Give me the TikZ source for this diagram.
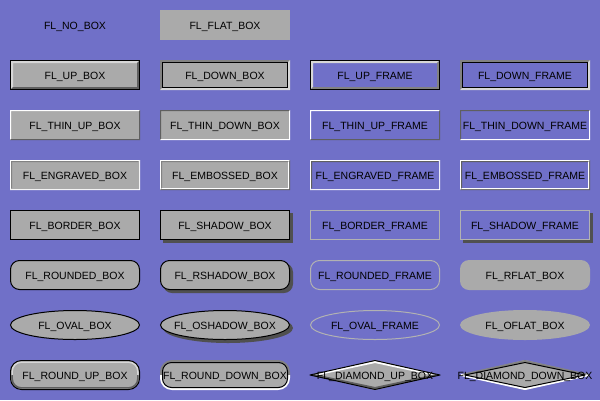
\documentclass[tikz,border=0pt]{standalone}
\usepackage{fontspec}
\setmainfont{Liberation Sans}
\definecolor{bg}{RGB}{112,112,200}
\definecolor{boxg}{RGB}{170,170,170}
\definecolor{lite}{RGB}{215,215,215}
\definecolor{dark}{RGB}{95,95,95}
\definecolor{mid}{RGB}{130,130,130}
\definecolor{shad}{RGB}{80,80,80}
\definecolor{fgray}{RGB}{178,178,178}
\tikzset{
  lbl/.style={font=\fontsize{10.5}{12}\selectfont, anchor=base, inner sep=0pt, text=black},
  blk/.style={draw=black, line width=1pt},
}
% bevel band: #1 inset, #2 width, #3 top-left colour, #4 bottom-right colour
\newcommand{\rbevel}[4]{%
  \fill[#3] (#1,#1) -- (130-#1,#1) -- (130-#1-#2,#1+#2) -- (#1+#2,#1+#2) -- (#1+#2,30-#1-#2) -- (#1,30-#1) -- cycle;
  \fill[#4] (130-#1,30-#1) -- (#1,30-#1) -- (#1+#2,30-#1-#2) -- (130-#1-#2,30-#1-#2) -- (130-#1-#2,#1+#2) -- (130-#1,#1) -- cycle;}
\begin{document}
\begin{tikzpicture}[x=1pt,y=-1pt]
\useasboundingbox (0,0) rectangle (600,400);
\fill[bg] (0,0) rectangle (600,400);

% ---------- row 0
\begin{scope}[shift={(10,10)}]
  \node[lbl] (nobox) at (65,19) {FL\_NO\_BOX};
\end{scope}
\begin{scope}[shift={(160,10)}]
  \fill[boxg] (0,0) rectangle (130,30);
  \node[lbl] (flatbox) at (65,19) {FL\_FLAT\_BOX};
\end{scope}

% ---------- row 1
\begin{scope}[shift={(10,60)}]
  \fill[boxg] (0,0) rectangle (130,30);
  \rbevel{1}{2}{lite}{dark}
  \draw[blk] (0.5,0.5) rectangle (129.5,29.5);
  \node[lbl] (upbox) at (65,19) {FL\_UP\_BOX};
\end{scope}
\begin{scope}[shift={(160,60)}]
  \fill[boxg] (0,0) rectangle (130,30);
  \rbevel{0}{2}{mid}{lite}
  \draw[blk] (2.5,2.5) rectangle (127.5,27.5);
  \node[lbl] (downbox) at (65,19) {FL\_DOWN\_BOX};
\end{scope}
\begin{scope}[shift={(310,60)}]
  \rbevel{1}{2}{lite}{mid}
  \draw[blk] (0.5,0.5) rectangle (129.5,29.5);
  \node[lbl] (upframe) at (65,19) {FL\_UP\_FRAME};
\end{scope}
\begin{scope}[shift={(460,60)}]
  \rbevel{0}{2}{mid}{lite}
  \draw[blk] (2.5,2.5) rectangle (127.5,27.5);
  \node[lbl] (downframe) at (65,19) {FL\_DOWN\_FRAME};
\end{scope}

% ---------- row 2
\begin{scope}[shift={(10,110)}]
  \fill[boxg] (0,0) rectangle (130,30);
  \rbevel{0}{1}{white}{dark}
  \node[lbl] (thinupbox) at (65,19) {FL\_THIN\_UP\_BOX};
\end{scope}
\begin{scope}[shift={(160,110)}]
  \fill[boxg] (0,0) rectangle (130,30);
  \rbevel{0}{1}{dark}{white}
  \node[lbl] (thindownbox) at (65,19) {FL\_THIN\_DOWN\_BOX};
\end{scope}
\begin{scope}[shift={(310,110)}]
  \rbevel{0}{1}{white}{dark}
  \node[lbl] (thinupframe) at (65,19) {FL\_THIN\_UP\_FRAME};
\end{scope}
\begin{scope}[shift={(460,110)}]
  \rbevel{0}{1}{dark}{white}
  \node[lbl] (thindownframe) at (65,19) {FL\_THIN\_DOWN\_FRAME};
\end{scope}

% ---------- row 3
\begin{scope}[shift={(10,160)}]
  \fill[boxg] (0,0) rectangle (130,30);
  \rbevel{0}{1}{white}{white}
  \rbevel{1}{1}{mid}{boxg}
  \node[lbl] (engravedbox) at (65,19) {FL\_ENGRAVED\_BOX};
\end{scope}
\begin{scope}[shift={(160,160)}]
  \fill[boxg] (0,0) rectangle (130,30);
  \rbevel{0}{1}{white}{dark}
  \rbevel{1}{1}{mid}{white}
  \node[lbl] (embossedbox) at (65,19) {FL\_EMBOSSED\_BOX};
\end{scope}
\begin{scope}[shift={(310,160)}]
  \rbevel{0}{1}{white}{white}
  \rbevel{1}{1}{dark}{bg}
  \node[lbl] (engravedframe) at (65,19) {FL\_ENGRAVED\_FRAME};
\end{scope}
\begin{scope}[shift={(460,160)}]
  \rbevel{0}{1}{white}{dark}
  \rbevel{1}{1}{dark}{white}
  \node[lbl] (embossedframe) at (65,19) {FL\_EMBOSSED\_FRAME};
\end{scope}

% ---------- row 4
\begin{scope}[shift={(10,210)}]
  \draw[blk, fill=boxg] (0.5,0.5) rectangle (129.5,29.5);
  \node[lbl] (borderbox) at (65,19) {FL\_BORDER\_BOX};
\end{scope}
\begin{scope}[shift={(160,210)}]
  \fill[shad] (3,3) rectangle (133,33);
  \draw[blk, fill=boxg] (0.5,0.5) rectangle (129.5,29.5);
  \node[lbl] (shadowbox) at (65,19) {FL\_SHADOW\_BOX};
\end{scope}
\begin{scope}[shift={(310,210)}]
  \draw[fgray, line width=1pt] (0.5,0.5) rectangle (129.5,29.5);
  \node[lbl] (borderframe) at (65,19) {FL\_BORDER\_FRAME};
\end{scope}
\begin{scope}[shift={(460,210)}]
  \fill[shad] (3,3) rectangle (133,33);
  \draw[fgray, line width=1pt, fill=bg] (0.5,0.5) rectangle (129.5,29.5);
  \node[lbl] (shadowframe) at (65,19) {FL\_SHADOW\_FRAME};
\end{scope}

% ---------- row 5
\begin{scope}[shift={(10,260)}]
  \draw[blk, fill=boxg, rounded corners=9pt] (0.5,0.5) rectangle (129.5,29.5);
  \node[lbl] (roundedbox) at (65,19) {FL\_ROUNDED\_BOX};
\end{scope}
\begin{scope}[shift={(160,260)}]
  \fill[shad, rounded corners=9pt] (3,3) rectangle (133,33);
  \draw[blk, fill=boxg, rounded corners=9pt] (0.5,0.5) rectangle (129.5,29.5);
  \node[lbl] (rshadowbox) at (65,19) {FL\_RSHADOW\_BOX};
\end{scope}
\begin{scope}[shift={(310,260)}]
  \draw[fgray, line width=1pt, rounded corners=9pt] (0.5,0.5) rectangle (129.5,29.5);
  \node[lbl] (roundedframe) at (65,19) {FL\_ROUNDED\_FRAME};
\end{scope}
\begin{scope}[shift={(460,260)}]
  \fill[boxg, rounded corners=9pt] (0,0) rectangle (130,30);
  \node[lbl] (rflatbox) at (65,19) {FL\_RFLAT\_BOX};
\end{scope}

% ---------- row 6
\begin{scope}[shift={(10,310)}]
  \draw[blk, fill=boxg] (65,15) ellipse [x radius=64.5, y radius=14.5];
  \node[lbl] (ovalbox) at (65,19) {FL\_OVAL\_BOX};
\end{scope}
\begin{scope}[shift={(160,310)}]
  \fill[shad] (68,18) ellipse [x radius=65, y radius=15];
  \draw[blk, fill=boxg] (65,15) ellipse [x radius=64.5, y radius=14.5];
  \node[lbl] (oshadowbox) at (65,19) {FL\_OSHADOW\_BOX};
\end{scope}
\begin{scope}[shift={(310,310)}]
  \draw[fgray, line width=1pt] (65,15) ellipse [x radius=64.5, y radius=14.5];
  \node[lbl] (ovalframe) at (65,19) {FL\_OVAL\_FRAME};
\end{scope}
\begin{scope}[shift={(460,310)}]
  \fill[boxg] (65,15) ellipse [x radius=65, y radius=15];
  \node[lbl] (oflatbox) at (65,19) {FL\_OFLAT\_BOX};
\end{scope}

% ---------- row 7
\begin{scope}[shift={(10,360)}]
  \fill[boxg, rounded corners=11pt] (0.5,0.5) rectangle (129.5,29.5);
  \begin{scope}
    \clip (-5,-5) rectangle (135,15);
    \draw[lite, line width=1.5pt, rounded corners=9pt] (2.2,2.2) rectangle (127.8,27.8);
  \end{scope}
  \begin{scope}
    \clip (-5,15) rectangle (135,35);
    \draw[dark, line width=1.5pt, rounded corners=9pt] (2.2,2.2) rectangle (127.8,27.8);
  \end{scope}
  \draw[blk, rounded corners=11pt] (0.5,0.5) rectangle (129.5,29.5);
  \node[lbl] (roundupbox) at (65,19) {FL\_ROUND\_UP\_BOX};
\end{scope}
\begin{scope}[shift={(160,360)}]
  \begin{scope}
    \clip (-5,-5) rectangle (135,15);
    \draw[mid, line width=2pt, rounded corners=11pt] (1,1) rectangle (129,29);
  \end{scope}
  \begin{scope}
    \clip (-5,15) rectangle (135,35);
    \draw[white, line width=2pt, rounded corners=11pt] (1,1) rectangle (129,29);
  \end{scope}
  \draw[blk, fill=boxg, rounded corners=9pt] (2.5,2.5) rectangle (127.5,27.5);
  \node[lbl] (rounddownbox) at (65,19) {FL\_ROUND\_DOWN\_BOX};
\end{scope}
\begin{scope}[shift={(310,360)}]
  \fill[boxg] (0,15) -- (65,0) -- (130,15) -- (65,30) -- cycle;
  \draw[white, line width=2pt] (4,15) -- (65,2) -- (126,15);
  \draw[dark, line width=2pt] (4,15) -- (65,28) -- (126,15);
  \draw[blk, line join=round] (0,15) -- (65,0.5) -- (130,15) -- (65,29.5) -- cycle;
  \node[lbl] (diamondupbox) at (65,19) {FL\_DIAMOND\_UP\_BOX};
\end{scope}
\begin{scope}[shift={(460,360)}]
  \fill[boxg] (0,15) -- (65,0) -- (130,15) -- (65,30) -- cycle;
  \draw[mid, line width=2pt] (1,15) -- (65,1) -- (129,15);
  \draw[white, line width=2pt] (1,15) -- (65,29) -- (129,15);
  \draw[blk, line join=round] (5,15) -- (65,2.5) -- (125,15) -- (65,27.5) -- cycle;
  \node[lbl] (diamonddownbox) at (65,19) {FL\_DIAMOND\_DOWN\_BOX};
\end{scope}
\end{tikzpicture}
\end{document}
